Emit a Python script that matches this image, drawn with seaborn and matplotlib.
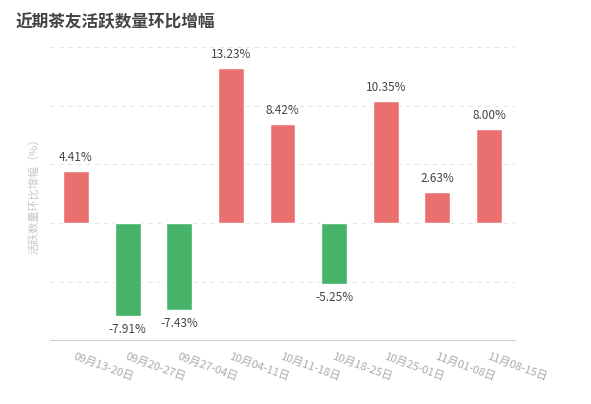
import pandas as pd
import numpy as np
import matplotlib.pyplot as plt
import seaborn as sns

sns.set_style('white')
plt.rcParams['font.family'] = ['Noto Sans CJK SC', 'DejaVu Sans']

weeks = ['09月13-20日', '09月20-27日', '09月27-04日', '10月04-11日', '10月11-18日',
         '10月18-25日', '10月25-01日', '11月01-08日', '11月08-15日']
growth = [4.41, -7.91, -7.43, 13.23, 8.42, -5.25, 10.35, 2.63, 8.00]

df = pd.DataFrame({'week': weeks, 'growth': growth})
colors = ['#ff5a5a' if v >= 0 else '#34c562' for v in growth]

fig = plt.figure(figsize=(5.91, 4.04), dpi=100)
ax = fig.add_axes([0.085, 0.158, 0.786, 0.726])
sns.barplot(df, x='week', y='growth', hue='week', palette=colors, legend=False,
            width=0.5, ax=ax, zorder=3)

ax.set_ylim(-10, 15)
ax.set_yticks([-10, -5, 0, 5, 10, 15])
ax.set_yticklabels([])
ax.tick_params(axis='both', length=0)
ax.grid(axis='y', color='#e6e6e6', linestyle=(0, (4, 4)), linewidth=0.8, zorder=0)
for s in ['top', 'right', 'left']:
    ax.spines[s].set_visible(False)
ax.spines['bottom'].set_color('#cccccc')
ax.set_xlim(-0.5, len(weeks) - 0.5)

for i, v in enumerate(growth):
    off = 0.6 if v >= 0 else -0.6
    ax.text(i, v + off, f'{v:.2f}%', ha='center', va='bottom' if v >= 0 else 'top',
            fontsize=8.5, color='#444444')

ax.set_xlabel('')
ax.set_ylabel('活跃数量环比增幅（%）', color='#c8c8c8', fontsize=8)
ax.set_xticks(range(len(weeks)))
ax.set_xticklabels(weeks, rotation=-20, ha='left', rotation_mode='anchor',
                   color='#aaaaaa', fontsize=8)
for lbl in ax.get_xticklabels():
    lbl.set_x(lbl.get_position()[0])
ax.tick_params(axis='x', pad=8)

fig.text(0.027, 0.945, '近期茶友活跃数量环比增幅', fontsize=12, fontweight='bold',
         color='#444444', va='center')

fig.savefig('out.png', dpi=100)
